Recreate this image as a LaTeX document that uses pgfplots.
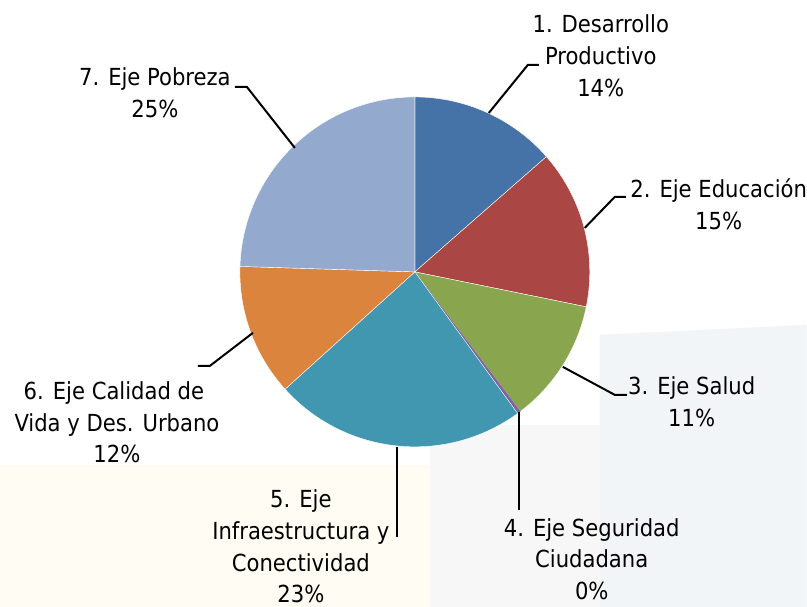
\documentclass[border=0pt]{standalone}
\usepackage{fontspec}
\setmainfont{DejaVu Sans Condensed}
\usepackage{pgfplots}
\pgfplotsset{compat=1.18}
\definecolor{c1}{RGB}{69,114,167}
\definecolor{c2}{RGB}{170,70,67}
\definecolor{c3}{RGB}{137,165,78}
\definecolor{c4}{RGB}{128,100,160}
\definecolor{c5}{RGB}{64,151,175}
\definecolor{c6}{RGB}{219,132,61}
\definecolor{c7}{RGB}{147,169,206}
\definecolor{wmY}{RGB}{254,252,243}
\definecolor{wmB}{RGB}{241,245,248}
\definecolor{wmG}{RGB}{246,247,246}
\newcommand\lbl{\fontsize{23.5bp}{32bp}\selectfont}
% slice values (percent)
\def\vA{13.55}\def\vB{14.65}\def\vC{11.5}\def\vD{0.3}\def\vE{23.3}\def\vF{12.2}\def\vG{24.5}
\pgfmathsetmacro\aA{3.6*\vA}
\pgfmathsetmacro\aB{\aA+3.6*\vB}
\pgfmathsetmacro\aC{\aB+3.6*\vC}
\pgfmathsetmacro\aD{\aC+3.6*\vD}
\pgfmathsetmacro\aE{\aD+3.6*\vE}
\pgfmathsetmacro\aF{\aE+3.6*\vF}
\pgfmathsetmacro\aG{\aF+3.6*\vG}
\begin{document}
\begin{tikzpicture}
\begin{axis}[scale only axis, width=807bp, height=607bp,
  xmin=0, xmax=807, ymin=0, ymax=607, y dir=reverse,
  hide axis, clip=false]
\path[fill=white] (rel axis cs:0,0) rectangle (rel axis cs:1,1);
% faint watermark background
\fill[wmY] (axis cs:0,465) rectangle (axis cs:430,607);
\fill[wmG] (axis cs:430,425) rectangle (axis cs:600,607);
\fill[wmB] (axis cs:600,335) -- (axis cs:807,325) -- (axis cs:807,607) -- (axis cs:600,607) -- cycle;
% pie slices
\addplot[fill=c1, draw=white, line width=0.4bp, domain=0:\aA, samples=60] ({415+175*sin(x)},{272-175*cos(x)}) -- (axis cs:415,272) -- cycle;
\addplot[fill=c2, draw=white, line width=0.4bp, domain=\aA:\aB, samples=60] ({415+175*sin(x)},{272-175*cos(x)}) -- (axis cs:415,272) -- cycle;
\addplot[fill=c3, draw=white, line width=0.4bp, domain=\aB:\aC, samples=60] ({415+175*sin(x)},{272-175*cos(x)}) -- (axis cs:415,272) -- cycle;
\addplot[fill=c4, draw=c4, line width=0.4bp, domain=\aC:\aD, samples=5] ({415+175*sin(x)},{272-175*cos(x)}) -- (axis cs:415,272) -- cycle;
\addplot[fill=c5, draw=white, line width=0.4bp, domain=\aD:\aE, samples=80] ({415+175*sin(x)},{272-175*cos(x)}) -- (axis cs:415,272) -- cycle;
\addplot[fill=c6, draw=white, line width=0.4bp, domain=\aE:\aF, samples=60] ({415+175*sin(x)},{272-175*cos(x)}) -- (axis cs:415,272) -- cycle;
\addplot[fill=c7, draw=white, line width=0.4bp, domain=\aF:\aG, samples=80] ({415+175*sin(x)},{272-175*cos(x)}) -- (axis cs:415,272) -- cycle;
% leader lines
\addplot[black, line width=2bp, mark=none] coordinates {(489,113) (528,65) (539,65)};
\addplot[black, line width=2bp, mark=none] coordinates {(585,228) (615,197) (626,197)};
\addplot[black, line width=2bp, mark=none] coordinates {(563,367) (615,395) (627,395)};
\addplot[black, line width=2bp, mark=none] coordinates {(519,412) (519,510)};
\addplot[black, line width=2bp, mark=none] coordinates {(397,447) (397,537)};
\addplot[black, line width=2bp, mark=none] coordinates {(253,333) (210,366) (198,366)};
\addplot[black, line width=2bp, mark=none] coordinates {(295,148) (247,87) (235,87)};
% labels
\begin{scope}[every node/.style={anchor=base, font=\lbl, inner sep=0pt, text=black}]
\node at (axis cs:601,33) {1. Desarrollo};
\node at (axis cs:601,65) {Productivo};
\node at (axis cs:601,97) {14\%};
\node at (axis cs:719,198) {2. Eje Educación};
\node at (axis cs:719,230) {15\%};
\node at (axis cs:692,395) {3. Eje Salud};
\node at (axis cs:692,427) {11\%};
\node at (axis cs:592,537) {4. Eje Seguridad};
\node at (axis cs:592,568) {Ciudadana};
\node at (axis cs:592,600) {0\%};
\node at (axis cs:301,508) {5. Eje};
\node at (axis cs:301,540) {Infraestructura y};
\node at (axis cs:301,572) {Conectividad};
\node at (axis cs:301,603) {23\%};
\node at (axis cs:114,400) {6. Eje Calidad de};
\node at (axis cs:117,432) {Vida y Des. Urbano};
\node at (axis cs:117,463) {12\%};
\node at (axis cs:155,86) {7. Eje Pobreza};
\node at (axis cs:155,118) {25\%};
\end{scope}
\end{axis}
\end{tikzpicture}
\end{document}
